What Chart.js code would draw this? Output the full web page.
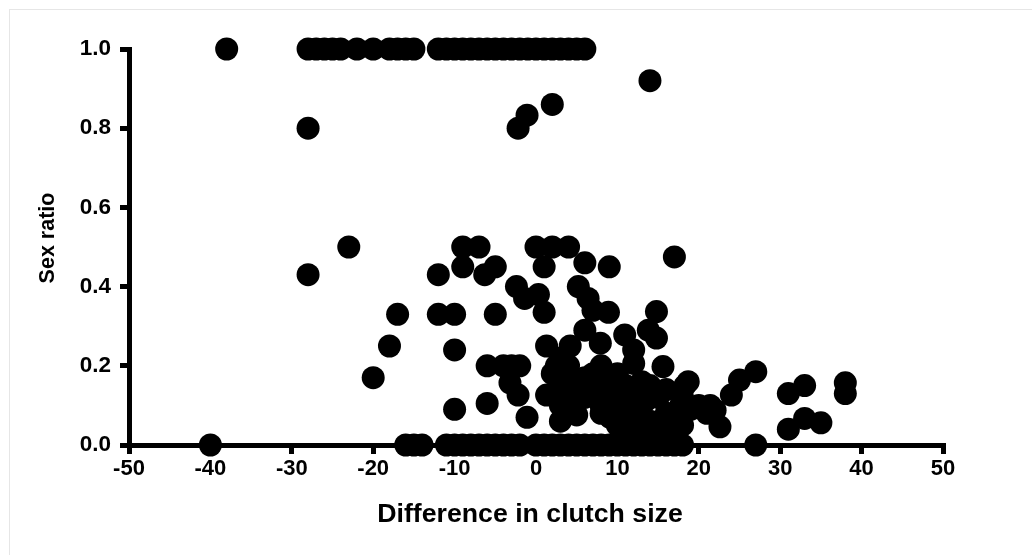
<!DOCTYPE html>
<html>
<head>
<meta charset="utf-8">
<script src="https://cdn.jsdelivr.net/npm/chart.js@4.4.1/dist/chart.umd.min.js"></script>
<style>
  html, body { margin: 0; padding: 0; background: #fff; }
  #wrap { position: relative; width: 1032px; height: 555px; }
  #frame { position: absolute; left: 9px; top: 9px; right: 0; bottom: 0;
           border-left: 1px solid #e6e6e6; border-top: 1px solid #e6e6e6; pointer-events: none; }
  canvas { position: absolute; left: 0; top: 0; }
</style>
</head>
<body>
<div id="wrap">
  <canvas id="sexRatio" width="1032" height="555"></canvas>
  <div id="frame"></div>
</div>
<script>
// difference in clutch size vs. sex ratio, one entry per clutch
const clutchDiff = [
  // all-male clutches
  -38, -28, -27, -26, -25, -24, -22, -20, -18, -17, -16, -15,
  -12, -11, -10, -9, -8, -7, -6, -5, -4, -3, -2, -1, 0, 1, 2, 3, 4, 5, 6,
  // upper singles
  -28, -2.2, -1.1, 2, 14,
  // middle band
  -28, -23, -17, -18, -20,
  -12, -9, -9, -7, -6.3, -5,
  -12, -10, -5, -10,
  -6, -4, -3, -2, -3.2, -2.2, -1.1, -10, -6,
  0, 2, 4, 17, 1, 9,
  -2.4, -1.4, 0.3, 1,
  6, 5.2, 6.4, 7, 8.9, 6,
  14.8, 13.8, 14.8, 10.9, 12, 15.6, 18.7,
  1.3, 4.2, 7.9,
  5, 9.1, 12, 13.6, 17.7, 17.3, 11.1, 9.1, 1.3, 5,
  3, 2, 3, 4, 6, 7, 8, 10, 11, 12, 13, 14, 15, 16, 10, 8, 6, 3, 2.5, 12, 14, 16, 18, 20, 21,
  8, 10, 12, 14, 15, 9, 11, 13, 7, 4, 3, 18, 19, 16,
  // right tail
  27, 25, 24, 21.4, 22.6, 22, 18.3, 31, 33, 31, 33, 35, 38, 38,
  // all-female clutches
  -40, -16, -15, -14, -11, -10, -9, -8, -7, -6, -5, -4, -3, -2,
  0, 1, 2, 3, 4, 5, 6, 7, 8, 9, 10, 11, 12, 13, 14, 15, 16, 17, 18, 27
];
const sexRatio = [
  1, 1, 1, 1, 1, 1, 1, 1, 1, 1, 1, 1,
  1, 1, 1, 1, 1, 1, 1, 1, 1, 1, 1, 1, 1, 1, 1, 1, 1, 1, 1,
  0.80, 0.80, 0.833, 0.86, 0.92,
  0.43, 0.50, 0.33, 0.25, 0.17,
  0.43, 0.45, 0.50, 0.50, 0.43, 0.45,
  0.33, 0.33, 0.33, 0.24,
  0.20, 0.20, 0.20, 0.20, 0.157, 0.126, 0.07, 0.09, 0.105,
  0.50, 0.50, 0.50, 0.475, 0.45, 0.45,
  0.40, 0.37, 0.38, 0.335,
  0.46, 0.40, 0.37, 0.34, 0.335, 0.29,
  0.337, 0.29, 0.27, 0.278, 0.24, 0.198, 0.16,
  0.25, 0.25, 0.257,
  0.164, 0.13, 0.206, 0.114, 0.097, 0.063, 0.063, 0.07, 0.126, 0.076,
  0.22, 0.18, 0.15, 0.20, 0.17, 0.13, 0.20, 0.18, 0.15, 0.13, 0.10, 0.15, 0.12, 0.08, 0.10, 0.10, 0.12, 0.10, 0.20, 0.09, 0.06, 0.14, 0.12, 0.10, 0.08,
  0.08, 0.05, 0.04, 0.03, 0.05, 0.16, 0.11, 0.16, 0.18, 0.12, 0.06, 0.05, 0.09, 0.03,
  0.185, 0.164, 0.126, 0.10, 0.046, 0.088, 0.15, 0.13, 0.15, 0.04, 0.067, 0.056, 0.157, 0.13,
  0, 0, 0, 0, 0, 0, 0, 0, 0, 0, 0, 0, 0, 0,
  0, 0, 0, 0, 0, 0, 0, 0, 0, 0, 0, 0, 0, 0, 0, 0, 0, 0, 0, 0
];
const xTicks = [-50, -40, -30, -20, -10, 0, 10, 20, 30, 40, 50];
const yTicks = [0, 0.2, 0.4, 0.6, 0.8, 1.0];
const xTitle = 'Difference in clutch size';
const yTitle = 'Sex ratio';

const points = clutchDiff.map((d, i) => ({ x: d, y: sexRatio[i] }));
const FONT = '"Liberation Sans", Arial, Helvetica, sans-serif';

// axis titles drawn by hand so they can sit a little off the axis centres
const axisTitles = {
  id: 'axisTitles',
  afterDraw(chart) {
    const ctx = chart.ctx;
    ctx.save();
    ctx.fillStyle = '#000';
    ctx.textAlign = 'center';
    ctx.textBaseline = 'middle';
    ctx.font = 'bold 26.7px ' + FONT;
    ctx.fillText(xTitle, 530, 515);
    ctx.translate(48, 238);
    ctx.rotate(-Math.PI / 2);
    ctx.font = 'bold 21.5px ' + FONT;
    ctx.fillText(yTitle, 0, 0);
    ctx.restore();
  }
};

new Chart(document.getElementById('sexRatio'), {
  type: 'scatter',
  data: {
    datasets: [{
      data: points,
      backgroundColor: '#000',
      borderColor: '#000',
      borderWidth: 0,
      pointRadius: 11.5,
      pointHoverRadius: 11.5,
      clip: false
    }]
  },
  options: {
    responsive: false,
    animation: false,
    events: [],
    layout: { padding: { top: 49, right: 89, left: 0, bottom: 0 } },
    plugins: { legend: { display: false }, tooltip: { enabled: false } },
    scales: {
      x: {
        type: 'linear',
        min: -50, max: 50,
        afterBuildTicks: s => { s.ticks = xTicks.map(v => ({ value: v })); },
        afterFit: s => { s.height = 110; },
        border: { display: true, color: '#000', width: 5 },
        grid: { drawOnChartArea: false, drawTicks: true, tickLength: 9, lineWidth: 5, color: '#000' },
        ticks: { color: '#000', padding: 2, maxRotation: 0, font: { family: FONT, size: 22, weight: 'bold' } }
      },
      y: {
        type: 'linear',
        min: 0, max: 1,
        afterBuildTicks: s => { s.ticks = yTicks.map(v => ({ value: v })); },
        afterFit: s => { s.width = 129; },
        border: { display: true, color: '#000', width: 5 },
        grid: { drawOnChartArea: false, drawTicks: true, tickLength: 9, lineWidth: 5, color: '#000' },
        ticks: {
          color: '#000', padding: 9,
          font: { family: FONT, size: 22.5, weight: 'bold' },
          callback: v => v.toFixed(1)
        }
      }
    }
  },
  plugins: [axisTitles]
});
</script>
</body>
</html>
